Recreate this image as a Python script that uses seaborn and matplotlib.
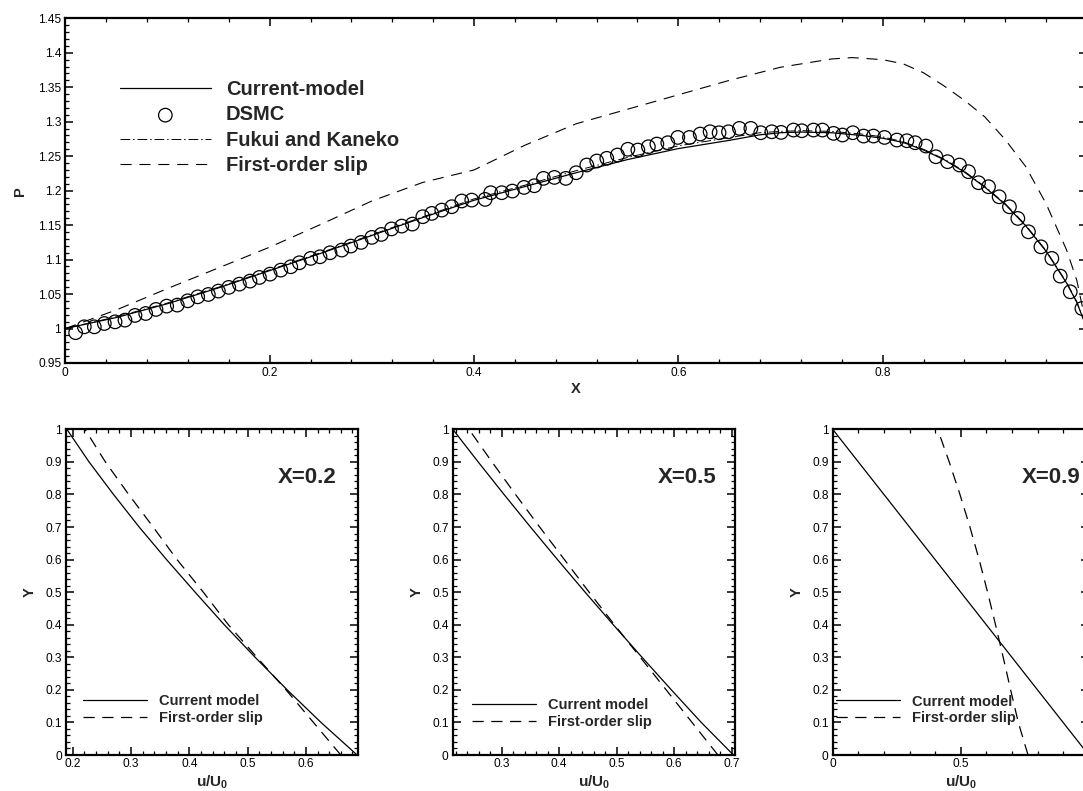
import numpy as np
import pandas as pd
import matplotlib
matplotlib.use("Agg")
import matplotlib.pyplot as plt
from matplotlib.ticker import MultipleLocator, FuncFormatter
import seaborn as sns

# ---------------- data: top panel (pressure along X) ----------------
x_model = [0.0, 0.05, 0.1, 0.15, 0.2, 0.25, 0.3, 0.35, 0.4, 0.45, 0.5, 0.55, 0.6, 0.65,
           0.68, 0.7, 0.72, 0.75, 0.78, 0.8, 0.82, 0.84, 0.86, 0.88, 0.9, 0.92, 0.94,
           0.96, 0.98, 0.99, 1.0]
p_model = [1.0, 1.016, 1.036, 1.059, 1.084, 1.109, 1.135, 1.161, 1.186, 1.206, 1.226,
           1.245, 1.261, 1.273, 1.281, 1.284, 1.285, 1.284, 1.280, 1.276, 1.270, 1.259,
           1.245, 1.227, 1.205, 1.180, 1.149, 1.112, 1.066, 1.038, 1.0]
p_fukui = [1.0, 1.017, 1.037, 1.060, 1.085, 1.110, 1.136, 1.162, 1.188, 1.208, 1.229,
           1.248, 1.265, 1.277, 1.284, 1.286, 1.287, 1.286, 1.282, 1.278, 1.271, 1.260,
           1.246, 1.228, 1.206, 1.181, 1.150, 1.113, 1.067, 1.039, 1.0]
x_slip = [0.0, 0.05, 0.1, 0.15, 0.2, 0.25, 0.3, 0.35, 0.4, 0.45, 0.5, 0.55, 0.6, 0.65,
          0.7, 0.75, 0.77, 0.8, 0.82, 0.84, 0.86, 0.88, 0.9, 0.92, 0.94, 0.96, 0.98,
          0.99, 1.0]
p_slip = [1.0, 1.027, 1.058, 1.088, 1.118, 1.151, 1.185, 1.212, 1.230, 1.266, 1.297,
          1.318, 1.339, 1.360, 1.379, 1.391, 1.393, 1.390, 1.384, 1.371, 1.352, 1.331,
          1.307, 1.274, 1.235, 1.181, 1.114, 1.070, 1.0]
x_dsmc = [0.0101, 0.0186, 0.0284, 0.0382, 0.0487, 0.0584, 0.0682, 0.0787, 0.0888, 0.0992,
          0.1096, 0.1198, 0.1296, 0.1400, 0.1498, 0.1600, 0.1704, 0.1808, 0.1900, 0.2004,
          0.2109, 0.2207, 0.2291, 0.2402, 0.2493, 0.2591, 0.2706, 0.2794, 0.2895, 0.3000,
          0.3093, 0.3193, 0.3293, 0.3397, 0.3499, 0.3587, 0.3685, 0.3783, 0.3880, 0.3978,
          0.4109, 0.4164, 0.4272, 0.4376, 0.4490, 0.4591, 0.4680, 0.4787, 0.4899, 0.5000,
          0.5104, 0.5202, 0.5300, 0.5404, 0.5506, 0.5604, 0.5707, 0.5790, 0.5897, 0.5995,
          0.6109, 0.6214, 0.6311, 0.6399, 0.6491, 0.6598, 0.6710, 0.6807, 0.6915, 0.7006,
          0.7127, 0.7209, 0.7323, 0.7411, 0.7519, 0.7607, 0.7708, 0.7813, 0.7910, 0.8018,
          0.8139, 0.8237, 0.8318, 0.8423, 0.8521, 0.8635, 0.8752, 0.8840, 0.8938, 0.9036,
          0.9140, 0.9241, 0.9323, 0.9427, 0.9549, 0.9656, 0.9738, 0.9836, 0.9950]
p_dsmc = [0.994, 1.0025, 1.0025, 1.0073, 1.0097, 1.0122, 1.019, 1.0218, 1.0277, 1.0325,
          1.034, 1.0402, 1.046, 1.0494, 1.0543, 1.0597, 1.0644, 1.0688, 1.0741, 1.0789,
          1.0847, 1.0896, 1.0954, 1.1017, 1.1041, 1.1099, 1.1138, 1.1196, 1.1249, 1.1322,
          1.1365, 1.1445, 1.1486, 1.1515, 1.1622, 1.167, 1.1718, 1.1767, 1.185, 1.1863,
          1.1873, 1.197, 1.197, 1.1994, 1.2047, 1.2071, 1.2178, 1.2192, 1.2178, 1.226,
          1.2372, 1.243, 1.2469, 1.2517, 1.26, 1.2589, 1.2637, 1.2676, 1.2695, 1.2772,
          1.2772, 1.2821, 1.2854, 1.284, 1.2854, 1.2903, 1.2903, 1.284, 1.2854, 1.2845,
          1.2879, 1.2869, 1.2879, 1.2879, 1.2831, 1.2807, 1.284, 1.2792, 1.2792, 1.2772,
          1.2734, 1.2724, 1.2695, 1.2647, 1.2492, 1.242, 1.2372, 1.2275, 1.2115, 1.2057,
          1.1911, 1.1766, 1.1597, 1.1403, 1.1185, 1.1017, 1.076, 1.0533, 1.0291]

# ---------------- data: velocity profiles ----------------
y_prof = [0.0, 0.1, 0.2, 0.3, 0.4, 0.5, 0.6, 0.7, 0.8, 0.9, 1.0]
u_model_02 = [0.688, 0.626, 0.568, 0.513, 0.460, 0.410, 0.361, 0.314, 0.270, 0.228, 0.190]
u_slip_02 = [0.660, 0.613, 0.566, 0.516, 0.467, 0.424, 0.379, 0.338, 0.296, 0.256, 0.221]
u_model_05 = [0.703, 0.647, 0.595, 0.544, 0.494, 0.445, 0.397, 0.350, 0.304, 0.259, 0.215]
u_slip_05 = [0.676, 0.631, 0.586, 0.541, 0.496, 0.452, 0.409, 0.366, 0.324, 0.283, 0.243]
y_lin = [0.0, 1.0]
u_model_09 = [1.0, 0.0]
u_slip_09 = [0.763, 0.725, 0.695, 0.666, 0.636, 0.605, 0.572, 0.536, 0.497, 0.455, 0.410]

panel_titles = ["X=0.2", "X=0.5", "X=0.9"]
top_labels = ["Current-model", "DSMC", "Fukui and Kaneko", "First-order slip"]
bot_labels = ["Current model", "First-order slip"]

# ---------------- style ----------------
sns.set_theme(style="ticks")
plt.rcParams["font.family"] = ["Liberation Sans", "DejaVu Sans"]
plt.rcParams["mathtext.fontset"] = "custom"
plt.rcParams["mathtext.rm"] = "Liberation Sans"
plt.rcParams["mathtext.bf"] = "Liberation Sans:bold"
plt.rcParams["mathtext.it"] = "Liberation Sans:italic"

W, H = 1083, 791
fig = plt.figure(figsize=(W / 100, H / 100), dpi=100)


def ax_at(x0, y0, x1, y1):
    # pixel box (left, top, right, bottom) -> figure fractions
    return fig.add_axes([x0 / W, 1 - y1 / H, (x1 - x0) / W, (y1 - y0) / H])


def style_axes(ax, xmaj, xmin, ymaj, ymin, xmax_label=None, lw=1.6):
    for s in ax.spines.values():
        s.set_linewidth(lw)
        s.set_color("black")
        s.set_visible(True)
    ax.xaxis.set_major_locator(MultipleLocator(xmaj))
    ax.xaxis.set_minor_locator(MultipleLocator(xmin))
    ax.yaxis.set_major_locator(MultipleLocator(ymaj))
    ax.yaxis.set_minor_locator(MultipleLocator(ymin))
    fmt = FuncFormatter(lambda v, p: ("%g" % round(v, 6)))

    def xfmt(v, p):
        if xmax_label is not None and v > xmax_label + 1e-9:
            return ""
        return "%g" % round(v, 6)
    ax.xaxis.set_major_formatter(FuncFormatter(xfmt))
    ax.yaxis.set_major_formatter(fmt)
    ax.tick_params(which="both", direction="in", top=True, right=True,
                   colors="black", labelsize=8.6, pad=3)
    ax.tick_params(which="major", length=6, width=1.1)
    ax.tick_params(which="minor", length=3.2, width=0.9)
    ax.grid(False)
    ax.set_facecolor("white")


LW = 0.9
# ---------------- top panel ----------------
ax = ax_at(65.3, 18.3, 1087, 363)
sns.lineplot(x=x_model, y=p_model, ax=ax, color="black", lw=LW, sort=False,
             estimator=None, label=top_labels[0])
sns.scatterplot(x=x_dsmc, y=p_dsmc, ax=ax, marker="o", s=95, facecolor="none",
                edgecolor="black", linewidth=0.9, label=top_labels[1], zorder=3)
sns.lineplot(x=x_model, y=p_fukui, ax=ax, color="black", lw=0.7, sort=False,
             estimator=None, label=top_labels[2], linestyle=(0, (10, 3, 1.5, 3)))
sns.lineplot(x=x_slip, y=p_slip, ax=ax, color="black", lw=0.8, sort=False,
             estimator=None, label=top_labels[3], linestyle=(0, (10, 7)))
ax.set_xlim(0, 1)
ax.set_ylim(0.95, 1.45)
style_axes(ax, 0.2, 0.04, 0.05, 0.01, xmax_label=0.9)
ax.set_xlabel("X", fontsize=10.5, fontweight="bold", labelpad=2)
ax.set_ylabel("P", fontsize=10.5, fontweight="bold", labelpad=8)
leg = ax.legend(loc="upper left", bbox_to_anchor=(120 / W, 1 - 80 / H),
                bbox_transform=fig.transFigure, frameon=False, borderpad=0,
                borderaxespad=0, handlelength=4.5, handletextpad=0.75,
                labelspacing=0.32, scatterpoints=1,
                prop={"size": 14.5, "weight": "bold"})

# ---------------- bottom panels ----------------
panels = [
    ((66, 429.3, 358.3, 755), (0.1885, 0.690), 0.1, 0.02,
     u_model_02, y_prof, u_slip_02, (83, 709.5), 0.725),
    ((452.7, 429.3, 735, 755), (0.2148, 0.7057), 0.1, 0.02,
     u_model_05, y_prof, u_slip_05, (472, 713.5), 0.725),
    ((832.7, 429.3, 1088.7, 755), (0.0, 1.0), 0.5, 0.1,
     u_model_09, y_lin, u_slip_09, (836, 710), 0.74),
]
for i, (box, xl, xmaj, xmin, um, ym, us, legpos, tx) in enumerate(panels):
    a = ax_at(*box)
    sns.lineplot(x=um, y=ym, ax=a, color="black", lw=LW, sort=False,
                 estimator=None, label=bot_labels[0])
    sns.lineplot(x=us, y=y_prof, ax=a, color="black", lw=LW, sort=False,
                 estimator=None, label=bot_labels[1], linestyle=(0, (9, 6)))
    a.set_xlim(*xl)
    a.set_ylim(0, 1)
    style_axes(a, xmaj, xmin, 0.1, 0.02, xmax_label=(0.9 if i == 2 else None))
    a.tick_params(axis="x", pad=2.5)
    a.set_xlabel(r"$\mathbf{u/U_0}$", fontsize=11, labelpad=2.5)
    a.set_ylabel("Y", fontsize=10.5, fontweight="bold", labelpad=6)
    a.text(tx, 0.853, panel_titles[i], transform=a.transAxes, fontsize=16,
           fontweight="bold", ha="left", va="center")
    a.legend(loc="center left", bbox_to_anchor=(legpos[0] / W, 1 - legpos[1] / H),
             bbox_transform=fig.transFigure, frameon=False, borderpad=0,
             borderaxespad=0, handlelength=4.4, handletextpad=0.8,
             labelspacing=0.2, prop={"size": 10.5, "weight": "bold"})

fig.savefig("out.png", dpi=100, facecolor="white")
